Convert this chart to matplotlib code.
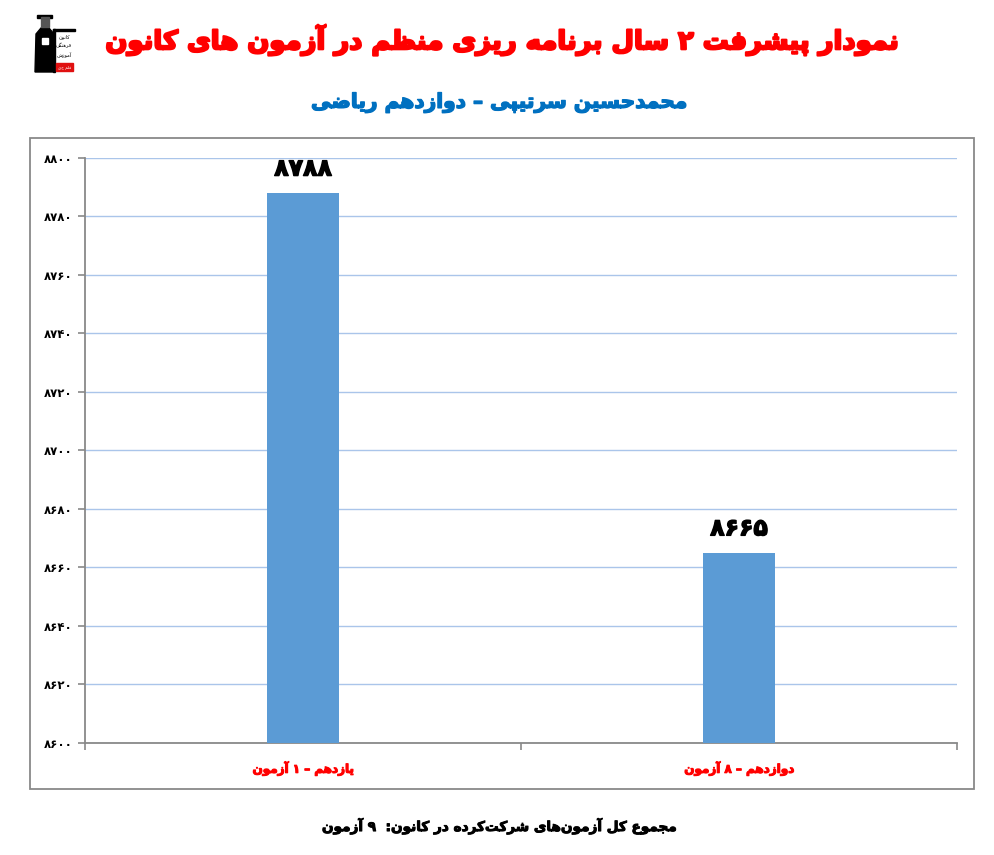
import re
import matplotlib
matplotlib.use('Agg')
import matplotlib.pyplot as plt
import matplotlib.patheffects as pe
from matplotlib.patches import Rectangle, Polygon

# ---------------- data ----------------
title = "نمودار پیشرفت ۲ سال برنامه ریزی منظم در آزمون های کانون"
subtitle = "محمدحسین سرتیپی – دوازدهم ریاضی"
categories = ["یازدهم – ۱ آزمون", "دوازدهم – ۸ آزمون"]
values = [8788, 8665]
y_ticks = [8600, 8620, 8640, 8660, 8680, 8700, 8720, 8740, 8760, 8780, 8800]
footer = "مجموع کل آزمون\u200cهای شرکت\u200cکرده در کانون:  ۹ آزمون"

# ---------------- minimal Persian shaping ----------------
FORMS = {
    '\u0627': ('\uFE8D', '\uFE8E', None, None),
    '\u0622': ('\uFE81', '\uFE82', None, None),
    '\u0628': ('\uFE8F', '\uFE90', '\uFE91', '\uFE92'),
    '\u067E': ('\uFB56', '\uFB57', '\uFB58', '\uFB59'),
    '\u062A': ('\uFE95', '\uFE96', '\uFE97', '\uFE98'),
    '\u062C': ('\uFE9D', '\uFE9E', '\uFE9F', '\uFEA0'),
    '\u062D': ('\uFEA1', '\uFEA2', '\uFEA3', '\uFEA4'),
    '\u062F': ('\uFEA9', '\uFEAA', None, None),
    '\u0631': ('\uFEAD', '\uFEAE', None, None),
    '\u0632': ('\uFEAF', '\uFEB0', None, None),
    '\u0633': ('\uFEB1', '\uFEB2', '\uFEB3', '\uFEB4'),
    '\u0634': ('\uFEB5', '\uFEB6', '\uFEB7', '\uFEB8'),
    '\u0635': ('\uFEB9', '\uFEBA', '\uFEBB', '\uFEBC'),
    '\u0636': ('\uFEBD', '\uFEBE', '\uFEBF', '\uFEC0'),
    '\u0638': ('\uFEC5', '\uFEC6', '\uFEC7', '\uFEC8'),
    '\u0639': ('\uFEC9', '\uFECA', '\uFECB', '\uFECC'),
    '\u0641': ('\uFED1', '\uFED2', '\uFED3', '\uFED4'),
    '\u06AF': ('\uFB92', '\uFB93', '\uFB94', '\uFB95'),
    '\u06A9': ('\uFB8E', '\uFB8F', '\uFB90', '\uFB91'),
    '\u0644': ('\uFEDD', '\uFEDE', '\uFEDF', '\uFEE0'),
    '\u0645': ('\uFEE1', '\uFEE2', '\uFEE3', '\uFEE4'),
    '\u0646': ('\uFEE5', '\uFEE6', '\uFEE7', '\uFEE8'),
    '\u0647': ('\uFEE9', '\uFEEA', '\uFEEB', '\uFEEC'),
    '\u0648': ('\uFEED', '\uFEEE', None, None),
    '\u06CC': ('\uFBFC', '\uFBFD', '\uFBFE', '\uFBFF'),
}


def fa(text):
    chars = list(text)
    out = []
    for i, c in enumerate(chars):
        if c not in FORMS:
            out.append(c)
            continue
        prev = chars[i - 1] if i > 0 else None
        nxt = chars[i + 1] if i + 1 < len(chars) else None
        jp = prev in FORMS and FORMS[prev][2] is not None
        jn = nxt in FORMS and FORMS[c][2] is not None
        iso, fin, ini, med = FORMS[c]
        if jp and jn:
            out.append(med)
        elif jp:
            out.append(fin)
        elif jn:
            out.append(ini)
        else:
            out.append(iso)
    s = ''.join(out).replace('\u200c', '')
    s = s[::-1]
    s = re.sub(r'[\u06F0-\u06F90-9]+', lambda m: m.group(0)[::-1], s)
    return s


def fa_num(n):
    return ''.join(chr(0x06F0 + int(d)) for d in str(n))


def heavy(color, w):
    return [pe.withStroke(linewidth=w, foreground=color)]


# ---------------- figure ----------------
W, H = 995, 855
fig = plt.figure(figsize=(W / 100, H / 100), dpi=100)
fig.patch.set_facecolor('white')
FONT = 'DejaVu Sans'


def fx(x):
    return x / W


def fy(y):
    return 1 - y / H


# outer chart border
fig.patches.append(Rectangle((fx(30.5), fy(789)), fx(974) - fx(30.5), fy(138) - fy(789),
                             transform=fig.transFigure, fill=False,
                             edgecolor='#898989', lw=1.3))

ax = fig.add_axes([fx(85), fy(743), fx(957) - fx(85), fy(158) - fy(743)])
x = list(range(len(categories)))
ax.bar(x, values, width=0.165, color='#5b9bd5', zorder=3)
ax.set_xlim(-0.5, len(categories) - 0.5)
ax.set_ylim(y_ticks[0], y_ticks[-1])

ax.set_yticks(y_ticks)
ax.set_yticklabels([fa_num(v) for v in y_ticks], fontsize=8.5, fontweight='bold',
                   family=FONT, color='black')
ax.set_xticks(x)
ax.set_xticklabels([fa(c) for c in categories], fontsize=8.6, fontweight='bold',
                   family=FONT, color='#ff0000')
for t in ax.get_xticklabels():
    t.set_path_effects(heavy('#ff0000', 0.8))
ax.set_xticks([-0.5, 0.5, 1.5], minor=True)
ax.tick_params(axis='x', which='major', length=0, pad=13)
ax.tick_params(axis='x', which='minor', length=5, color='#898989', width=1.2)
ax.tick_params(axis='y', length=5, color='#898989', width=1.2, pad=4)

for sp in ['top', 'right']:
    ax.spines[sp].set_visible(False)
for sp in ['left', 'bottom']:
    ax.spines[sp].set_color('#898989')
    ax.spines[sp].set_linewidth(1.3)

ax.grid(axis='y', color='#aac5ea', lw=1, zorder=0)
ax.set_axisbelow(True)

for xi, v in zip(x, values):
    t = ax.annotate(fa_num(v), (xi, v), xytext=(0, 9), textcoords='offset points',
                    ha='center', va='bottom', fontsize=17, fontweight='bold',
                    family=FONT, color='black')
    t.set_path_effects(heavy('black', 1.0))

# titles
fig.text(fx(503), fy(40), fa(title), ha='center', va='center', fontsize=18.6,
         fontweight='bold', family=FONT, color='#ff0000',
         path_effects=heavy('#ff0000', 1.6))
fig.text(fx(500), fy(103), fa(subtitle), ha='center', va='center', fontsize=14.5,
         fontweight='bold', family=FONT, color='#0070c0',
         path_effects=heavy('#0070c0', 1.0))
fig.text(fx(500), fy(826), fa(footer), ha='center', va='center', fontsize=9.8,
         fontweight='bold', family=FONT, color='black',
         path_effects=heavy('black', 0.7))

# simple logo
lg = fig.add_axes([fx(33), fy(74), fx(77) - fx(33), fy(12) - fy(74)])
lg.set_xlim(0, 44)
lg.set_ylim(62, 0)
lg.axis('off')
lg.add_patch(Polygon([[2, 60], [3, 22], [8, 16], [16, 16], [21, 22], [21, 60]],
                     closed=True, color='black'))
lg.add_patch(Rectangle((4, 3), 15, 3, color='black'))
lg.add_patch(Rectangle((8, 5), 8, 10, color='#555555'))
lg.add_patch(Rectangle((9, 26), 6, 6, color='white'))
lg.add_patch(Rectangle((20, 17), 22, 2.5, color='black'))
lg.add_patch(Rectangle((20, 17), 1.5, 43, color='black'))
lg.add_patch(Rectangle((23, 51), 17, 8, color='#e01010'))
for yy, t in [(25, 'کانون'), (34, 'فرهنگی'), (43, 'آموزش')]:
    lg.text(31, yy, fa(t), ha='center', va='center', fontsize=3.6, family=FONT,
            color='black')
lg.text(31.5, 55, fa('فلم چی'), ha='center', va='center', fontsize=3,
        family=FONT, color='white')

fig.savefig('out.png', dpi=100, facecolor='white')
